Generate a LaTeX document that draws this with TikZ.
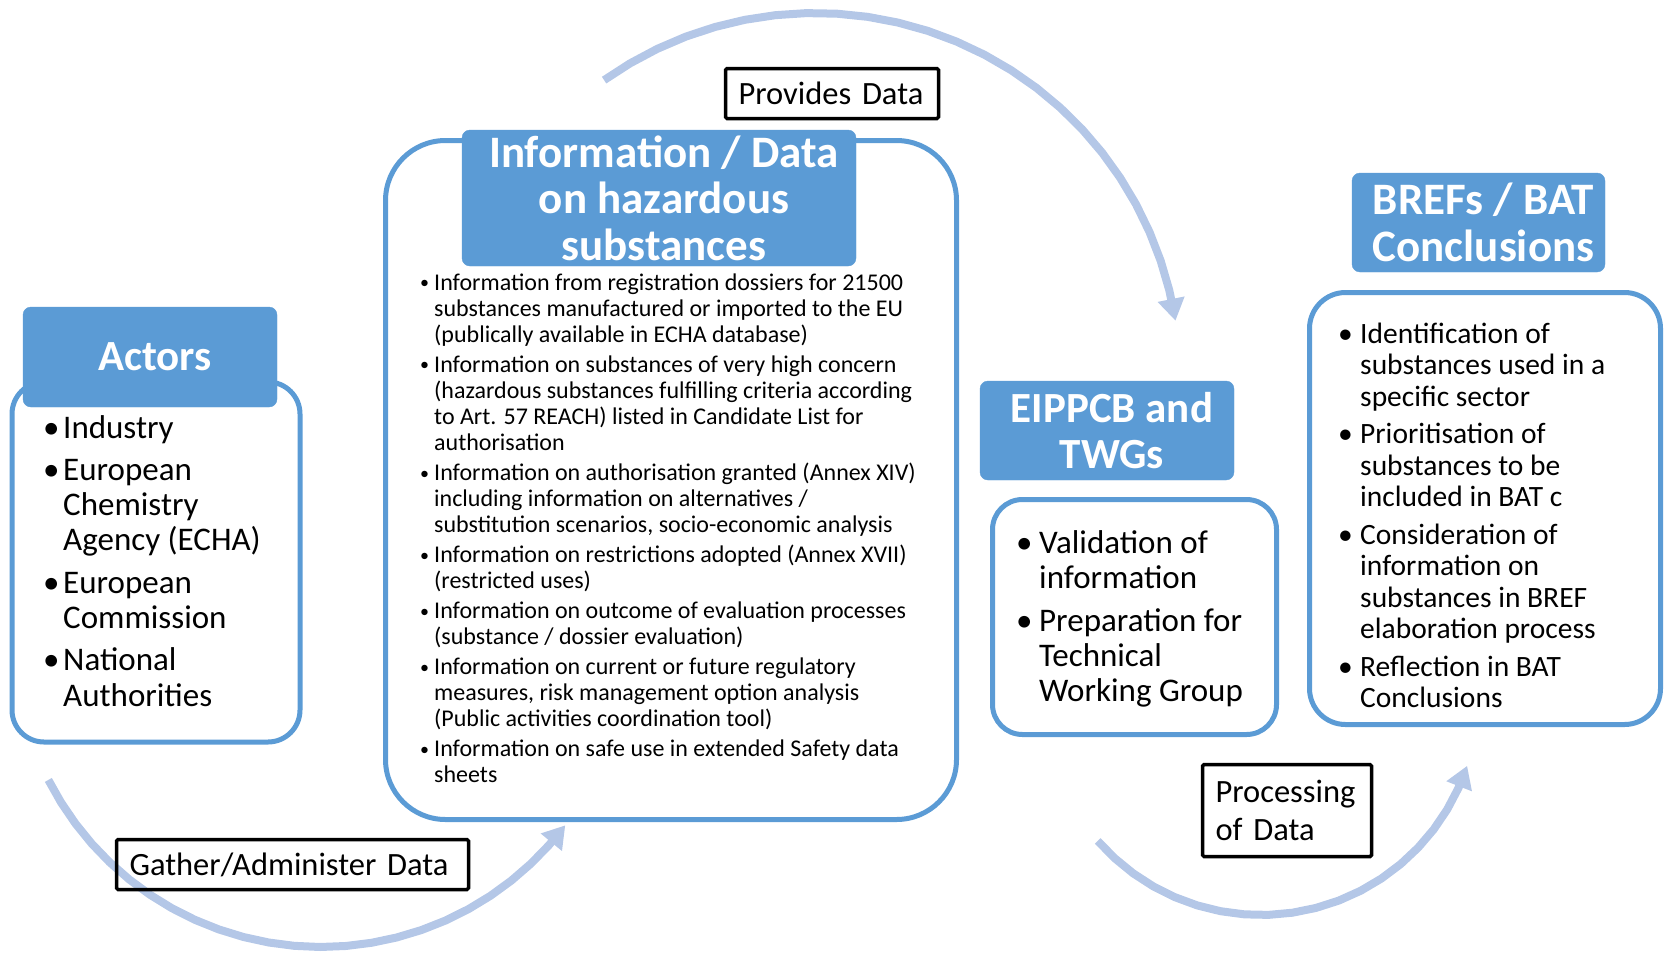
\documentclass[tikz,border=0pt]{standalone}
\usepackage{fontspec}
\setmainfont{Carlito}
\usetikzlibrary{arrows.meta}
\definecolor{hdr}{HTML}{5B9BD5}
\definecolor{arcc}{HTML}{B4C7E7}
\newcommand{\bl}{\textbullet}
\newcommand{\sbl}{{\fontsize{18}{18}\selectfont\raisebox{1.2pt}{\textbullet}}}
\newcommand{\hs}{\hspace*{10pt}}
\begin{document}
\begin{tikzpicture}[x=1pt,y=-1pt,
  hdrbox/.style={fill=hdr, draw=hdr, rounded corners=8pt, text=white,
    font=\fontsize{43}{46.5}\selectfont\bfseries, align=center, inner sep=0pt},
  bodybox/.style={draw=hdr, line width=5pt, fill=white, inner sep=0pt},
  lblbox/.style={draw=black, line width=3.5pt, rounded corners=1.5pt, inner xsep=13pt,
    inner ysep=0pt, font=\fontsize{32.5}{38}\selectfont, align=left},
  arcline/.style={draw=arcc, line width=8pt, -{Triangle[width=26pt,length=22pt]}},
  bodytxt/.style={anchor=base west, inner sep=0pt}]
\useasboundingbox (0,0) rectangle (1669,953);

% circular arrows
\draw[arcline] plot[domain=0:1, samples=25, variable=\t]
  ({815+365*cos(234.7+116.3*\t)}, {378+365*sin(234.7+116.3*\t)});
\draw[arcline] plot[domain=0:1, samples=25, variable=\t]
  ({321+306*cos(153-116*\t)}, {641+306*sin(153-116*\t)});
\draw[arcline] plot[domain=0:1, samples=20, variable=\t]
  ({1261+217*cos(138.8-120.6*\t)}, {698+217*sin(138.8-120.6*\t)});

% body boxes
\node[bodybox, rounded corners=32pt, minimum width=288pt, minimum height=360pt] (actbody) at (156,562) {};
\node[bodybox, rounded corners=60pt, minimum width=571pt, minimum height=679pt] (midbody) at (671,480) {};
\node[bodybox, rounded corners=30pt, minimum width=284pt, minimum height=235pt] (eipbody) at (1134.5,617) {};
\node[bodybox, rounded corners=36pt, minimum width=351pt, minimum height=432pt] (brefbody) at (1485,508.5) {};

% headers
\node[hdrbox, minimum width=254pt, minimum height=100pt] (acthdr) at (150,357) {\hs Actors};
\node[hdrbox, minimum width=394pt, minimum height=136pt, font=\fontsize{45}{46.5}\selectfont\bfseries] (midhdr) at (659,198) {\hs Information / Data\\\hs on hazardous\\\hs substances};
\node[hdrbox, minimum width=254pt, minimum height=99pt] (eiphdr) at (1107,430.5) {\hs EIPPCB and\\\hs TWGs};
\node[hdrbox, minimum width=253pt, minimum height=99pt, font=\fontsize{45}{47}\selectfont\bfseries] (brefhdr) at (1478.5,222.5) {\hs BREFs / BAT\\\hs Conclusions};

% body texts
\node[bodytxt, font=\fontsize{33}{35.3}\selectfont] (acttxt) at (43,438) {%
\begin{tabular}[t]{@{}p{20pt}@{}l@{}}
\bl & Industry\\[7pt]
\bl & European\\ & Chemistry\\ & Agency (ECHA)\\[7pt]
\bl & European\\ & Commission\\[7pt]
\bl & National\\ & Authorities
\end{tabular}};

\node[bodytxt, font=\fontsize{24}{26.2}\selectfont] (midtxt) at (420,290) {%
\begin{tabular}[t]{@{}p{14pt}@{}l@{}}
\sbl & Information from registration dossiers for 21500\\
 & substances manufactured or imported to the EU\\
 & (publically available in ECHA database)\\[3.5pt]
\sbl & Information on substances of very high concern\\
 & (hazardous substances fulfilling criteria according\\
 & to Art. 57 REACH) listed in Candidate List for\\
 & authorisation\\[3.5pt]
\sbl & Information on authorisation granted (Annex XIV)\\
 & including information on alternatives /\\
 & substitution scenarios, socio-economic analysis\\[3.5pt]
\sbl & Information on restrictions adopted (Annex XVII)\\
 & (restricted uses)\\[3.5pt]
\sbl & Information on outcome of evaluation processes\\
 & (substance / dossier evaluation)\\[3.5pt]
\sbl & Information on current or future regulatory\\
 & measures, risk management option analysis\\
 & (Public activities coordination tool)\\[3.5pt]
\sbl & Information on safe use in extended Safety data\\
 & sheets
\end{tabular}};

\node[bodytxt, font=\fontsize{33}{35}\selectfont] (eiptxt) at (1016,553) {%
\begin{tabular}[t]{@{}p{23pt}@{}l@{}}
\bl & Validation of\\ & information\\[8pt]
\bl & Preparation for\\ & Technical\\ & Working Group
\end{tabular}};

\node[bodytxt, font=\fontsize{29.5}{31.5}\selectfont] (breftxt) at (1338,343) {%
\begin{tabular}[t]{@{}p{22pt}@{}l@{}}
\bl & Identification of\\ & substances used in a\\ & specific sector\\[6pt]
\bl & Prioritisation of\\ & substances to be\\ & included in BAT c\\[6pt]
\bl & Consideration of\\ & information on\\ & substances in BREF\\ & elaboration process\\[6pt]
\bl & Reflection in BAT\\ & Conclusions
\end{tabular}};

% labels
\node[lblbox, text width=187pt, minimum height=50pt] (provides) at (832,93.5) {Provides Data};
\node[lblbox, text width=326pt, minimum height=50pt] (gather) at (292.5,864.5) {Gather/Administer Data};
\node[lblbox, text width=143pt, minimum height=92pt] (processing) at (1287,810.5) {Processing\\of Data};
\end{tikzpicture}
\end{document}
